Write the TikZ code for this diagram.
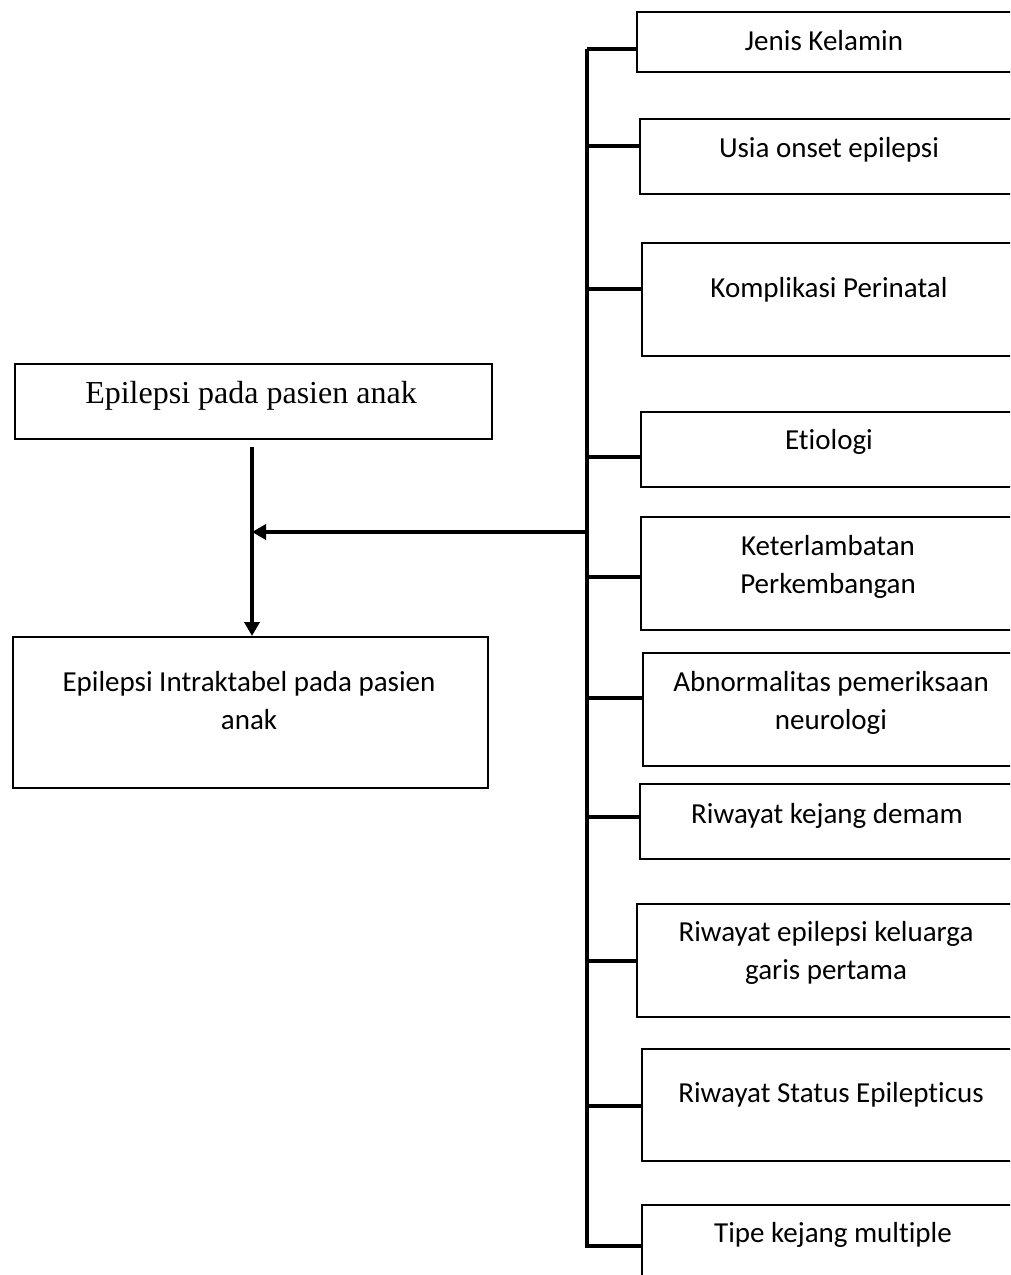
\documentclass[tikz,border=0pt]{standalone}
\usepackage{fontspec}
\setmainfont{Carlito}[Ligatures=NoCommon]
\newfontfamily\timesfont{Liberation Serif}
\usetikzlibrary{arrows.meta}
\begin{document}
\begin{tikzpicture}[x=1pt,y=-1pt,
  box/.style={draw,line width=2.2pt,inner sep=0pt,anchor=north west},
  lbl/.style={font=\fontsize{29}{37.5}\selectfont,align=center,anchor=base,inner sep=0pt},
  conn/.style={line width=3.5pt},
  arr/.style={line width=3.5pt,-{Triangle[length=14pt,width=15pt]}}]
\useasboundingbox (0,0) rectangle (1010,1275);
\clip (0,0) rectangle (1010,1275);
% left boxes
\node[box,minimum width=477pt,minimum height=75pt] (ba) at (14,363) {};
\node[font=\timesfont\fontsize{32}{38}\selectfont,anchor=base,inner sep=0pt] (ta) at (251,403) {Epilepsi pada pasien anak};
\node[box,minimum width=475pt,minimum height=151pt] (bb) at (12,636) {};
\node[lbl] (tb) at (249,729) {Epilepsi Intraktabel pada pasien\\anak};
% right boxes
\node[box,minimum width=380pt,minimum height=60pt] (r1) at (636,11) {};
\node[lbl] (t1) at (824,50) {Jenis Kelamin};
\node[box,minimum width=380pt,minimum height=75pt] (r2) at (639,118) {};
\node[lbl] (t2) at (829,157) {Usia onset epilepsi};
\node[box,minimum width=380pt,minimum height=113pt] (r3) at (641,242) {};
\node[lbl] (t3) at (829,297) {Komplikasi Perinatal};
\node[box,minimum width=380pt,minimum height=75pt] (r4) at (640,411) {};
\node[lbl] (t4) at (829,449) {Etiologi};
\node[box,minimum width=380pt,minimum height=113pt] (r5) at (640,516) {};
\node[lbl] (t5) at (828,593) {Keterlambatan\\Perkembangan};
\node[box,minimum width=380pt,minimum height=113pt] (r6) at (642,652) {};
\node[lbl] (t6) at (831,729) {Abnormalitas pemeriksaan\\neurologi};
\node[box,minimum width=380pt,minimum height=75pt] (r7) at (639,783) {};
\node[lbl] (t7) at (827,823) {Riwayat kejang demam};
\node[box,minimum width=380pt,minimum height=113pt] (r8) at (636,903) {};
\node[lbl] (t8) at (826,979) {Riwayat epilepsi keluarga\\garis pertama};
\node[box,minimum width=380pt,minimum height=112pt] (r9) at (641,1048) {};
\node[lbl] (t9) at (831,1102) {Riwayat Status Epilepticus};
\node[box,minimum width=380pt,minimum height=120pt] (r10) at (641,1204) {};
\node[lbl] (t10) at (833,1242) {Tipe kejang multiple};
% trunk
\coordinate (ttop) at (587,49);
\coordinate (tbot) at (587,1248);
\draw[conn] (ttop) -- (tbot);
\foreach \n/\y in {r1/49,r2/146,r3/289,r4/457,r5/577,r6/698,r7/817,r8/961,r9/1106,r10/1246}{
  \draw[conn] (587,\y) -- (\n.west |- 0,\y);
}
% arrows
\coordinate (amid) at (252,532);
\coordinate (aorig) at (587,532);
\draw[arr] (ba.south -| amid) ++(0,7) -- (bb.north -| amid);
\draw[arr] (aorig) -- (amid);
\end{tikzpicture}
\end{document}
